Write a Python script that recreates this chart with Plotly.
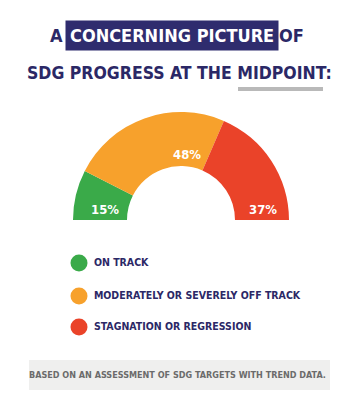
import plotly.graph_objects as go

categories = ["ON TRACK", "MODERATELY OR SEVERELY OFF TRACK", "STAGNATION OR REGRESSION"]
shares = [15, 48, 37]
labels_pct = ["15%", "48%", "37%"]
colors = ["#3aaa49", "#f7a12c", "#ea4329"]

NAVY = "#2b2866"
FONT = "DejaVu Sans Condensed"
OFF = 8                      # page body margin
W, H = 359 - OFF, 400 - OFF

# donut geometry (page pixels)
cx, cy, R = 181, 220, 108
pct_pos = [(105, 209), (187, 154), (263, 209)]

fig = go.Figure()

fig.add_trace(go.Pie(
    values=shares + [sum(shares)],
    labels=categories + ["hidden"],
    marker=dict(colors=colors + ["rgba(0,0,0,0)"], line=dict(width=0)),
    hole=0.5, sort=False, direction="clockwise", rotation=270,
    textinfo="none", hoverinfo="skip", showlegend=False,
    domain=dict(x=[(cx - R - OFF) / W, (cx + R - OFF) / W],
                y=[(400 - cy - R) / H, (400 - cy + R) / H]),
))

fig.add_trace(go.Scatter(
    x=[79, 79, 79], y=[263, 296, 327], mode="markers+text",
    marker=dict(size=17, color=colors),
    text=[" " + c for c in categories], textposition="middle right",
    textfont=dict(family=FONT, size=10.5, color=NAVY, weight="bold"),
    hoverinfo="skip", showlegend=False,
))

shapes = [
    dict(type="rect", xref="x", yref="y", x0=29, x1=330, y0=360, y1=390,
         fillcolor="#efefee", line=dict(width=0), layer="below"),
    dict(type="rect", xref="x", yref="y", x0=238, x1=323, y0=87, y1=91,
         fillcolor="#b9b9b9", line=dict(width=0), layer="below"),
]

tf = dict(family=FONT, size=18, color=NAVY, weight="bold")
annotations = [
    dict(x=171.5, y=35.5, xref="x", yref="y", text="CONCERNING PICTURE", showarrow=False,
         font=dict(family=FONT, size=18, color="white", weight="bold"),
         bgcolor="#2f2c6e", borderpad=4, xanchor="center", yanchor="middle"),
    dict(x=65, y=35.5, xref="x", yref="y", text="A", showarrow=False, font=tf,
         xanchor="right", yanchor="middle"),
    dict(x=277, y=35.5, xref="x", yref="y", text="OF", showarrow=False, font=tf,
         xanchor="left", yanchor="middle"),
    dict(x=179, y=73, xref="x", yref="y", text="SDG PROGRESS AT THE MIDPOINT:", showarrow=False,
         font=dict(family=FONT, size=17.5, color=NAVY, weight="bold"),
         xanchor="center", yanchor="middle"),
    dict(x=177, y=375, xref="x", yref="y", text="BASED ON AN ASSESSMENT OF SDG TARGETS WITH TREND DATA.",
         showarrow=False, font=dict(family=FONT, size=9, color="#6b6b6b", weight="bold"),
         xanchor="center", yanchor="middle"),
]
for (px, py), t in zip(pct_pos, labels_pct):
    annotations.append(dict(x=px, y=py, xref="x", yref="y", text=t, showarrow=False,
                            font=dict(family=FONT, size=13, color="white", weight="bold"),
                            xanchor="center", yanchor="middle"))

fig.update_layout(
    width=W, height=H, margin=dict(l=0, r=0, t=0, b=0),
    paper_bgcolor="white", plot_bgcolor="rgba(0,0,0,0)",
    xaxis=dict(range=[OFF, 359], visible=False, fixedrange=True),
    yaxis=dict(range=[400, OFF], visible=False, fixedrange=True),
    shapes=shapes, annotations=annotations, showlegend=False,
)

fig.write_html("out.html")
